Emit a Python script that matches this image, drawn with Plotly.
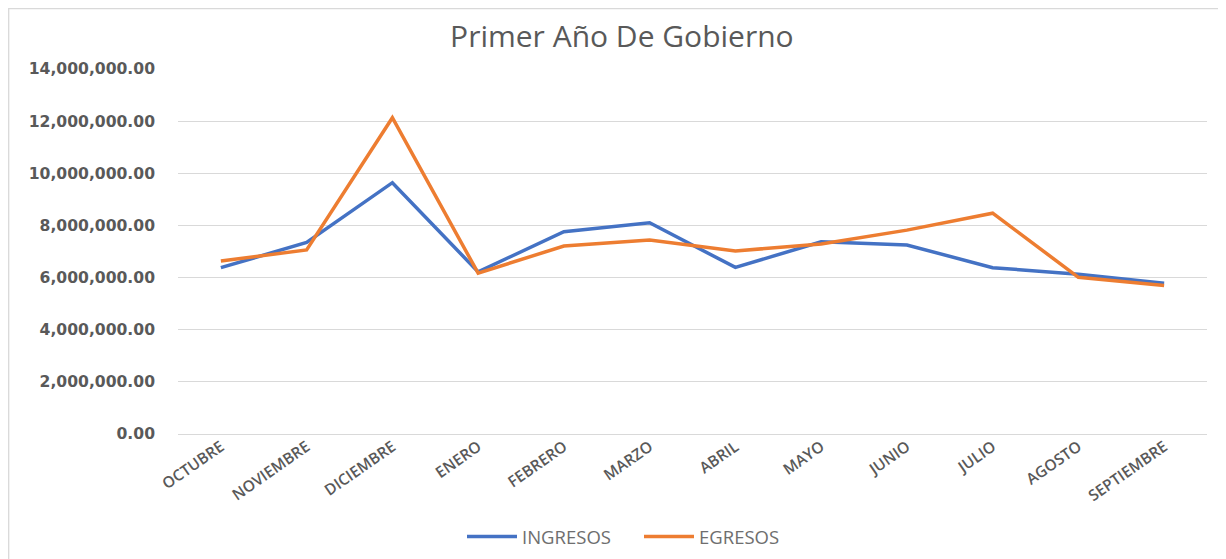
import plotly.graph_objects as go

meses = ["OCTUBRE", "NOVIEMBRE", "DICIEMBRE", "ENERO", "FEBRERO", "MARZO",
         "ABRIL", "MAYO", "JUNIO", "JULIO", "AGOSTO", "SEPTIEMBRE"]
ingresos = [6380000, 7350000, 9640000, 6220000, 7760000, 8100000,
            6390000, 7370000, 7250000, 6380000, 6130000, 5780000]
egresos = [6640000, 7060000, 12130000, 6170000, 7210000, 7440000,
           7020000, 7290000, 7820000, 8470000, 6010000, 5700000]
y_ticks = [0, 2000000, 4000000, 6000000, 8000000, 10000000, 12000000, 14000000]

W, H = 1218, 551
L, R, T, B = 170, 19, 61, 125
PW, PH = W - L - R, H - T - B

fig = go.Figure()
fig.add_trace(go.Scatter(x=meses, y=ingresos, name="INGRESOS", mode="lines",
                         line=dict(color="#4472C4", width=3.5)))
fig.add_trace(go.Scatter(x=meses, y=egresos, name="EGRESOS", mode="lines",
                         line=dict(color="#ED7D31", width=3.5)))

fig.update_layout(
    width=W, height=H,
    margin=dict(l=L, r=R, t=T, b=B, autoexpand=False),
    paper_bgcolor="white", plot_bgcolor="white",
    title=dict(text="Primer Año De Gobierno", x=0.504, xanchor="center",
               y=0.949, yanchor="middle",
               font=dict(family="Open Sans", size=30, color="#595959")),
    showlegend=True,
    legend=dict(orientation="h", x=(454 - L) / PW, xanchor="left",
                y=-(537 - 8 - (T + PH)) / PH, yanchor="middle",
                font=dict(family="Open Sans", size=18.5, color="#6E6E6E"),
                entrywidth=112, entrywidthmode="pixels",
                itemwidth=50, tracegroupgap=0),
    xaxis=dict(type="category", tickangle=-35, showgrid=False, automargin=False,
               showline=False, ticks="", range=[-0.5, 11.5],
               tickfont=dict(family="Open Sans", size=15.5, color="#595959", weight=600)),
    yaxis=dict(range=[0, 14000000], tickvals=y_ticks, tickformat=",.2f", automargin=False,
               showgrid=True, gridcolor="#D9D9D9", gridwidth=1.3,
               zeroline=True, zerolinecolor="#D9D9D9", zerolinewidth=1.3,
               showline=False, ticks="", ticklabelstandoff=22,
               tickfont=dict(family="DejaVu Sans", size=15.6, color="#595959", weight=600)),
)

fig.add_shape(type="rect", xref="paper", yref="paper",
              x0=(0.7 - L) / PW, x1=(1216 - L) / PW,
              y0=-(B + 10) / PH, y1=1 + (T - 0.7) / PH,
              line=dict(color="#D9D9D9", width=1.3), fillcolor="rgba(0,0,0,0)",
              layer="below")

fig.write_html("out.html")
